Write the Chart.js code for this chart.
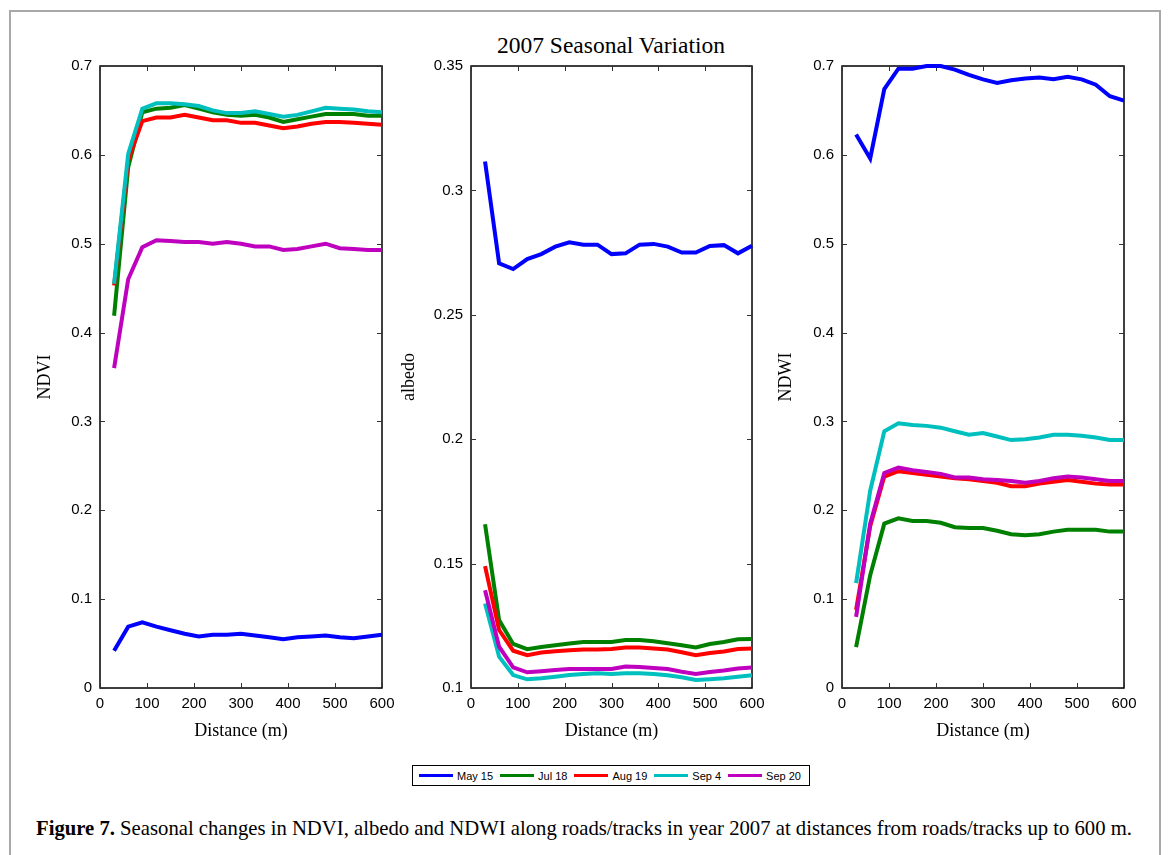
<!DOCTYPE html>
<html>
<head>
<meta charset="utf-8">
<script src="https://cdn.jsdelivr.net/npm/chart.js@4.4.0/dist/chart.umd.min.js"></script>
<style>
  body { margin: 0; background: #fff; width: 1168px; height: 855px; position: relative; overflow: hidden; }
  #frame { position: absolute; left: 9px; top: 10px; width: 1152px; height: 900px; border: 2px solid #a8a8a8; box-sizing: border-box; }
  canvas.panel { position: absolute; top: 49px; }
  #title { position: absolute; left: 411px; width: 400px; top: 32px; text-align: center;
           font: 23.5px "Liberation Serif", serif; color: #000; }
  #legend { position: absolute; left: 412px; top: 765px; width: 398px; height: 21px; box-sizing: border-box;
            border: 1.5px solid #000; display: flex; align-items: center; padding-left: 6px;
            font: 11px "Liberation Sans", Arial, sans-serif; color: #000; }
  #legend .item { display: flex; align-items: center; margin-right: 7px; }
  #legend .swatch { width: 34px; height: 3px; margin-right: 4px; }
  #caption { position: absolute; left: 36px; top: 816px; white-space: nowrap; transform-origin: 0 0;
             font: 21px "Liberation Serif", serif; color: #000; }
</style>
</head>
<body>
<div id="frame"></div>
<div id="title">2007 Seasonal Variation</div>
<canvas id="ndviChart" class="panel"></canvas>
<canvas id="albedoChart" class="panel"></canvas>
<canvas id="ndwiChart" class="panel"></canvas>
<div id="legend"></div>
<div id="caption"><b>Figure 7.</b> Seasonal changes in NDVI, albedo and NDWI along roads/tracks in year 2007 at distances from roads/tracks up to 600 m.</div>

<script>
// distances from roads/tracks (m)
const distance = [30, 60, 90, 120, 150, 180, 210, 240, 270, 300, 330, 360, 390, 420, 450, 480, 510, 540, 570, 600];
const dates = ['May 15', 'Jul 18', 'Aug 19', 'Sep 4', 'Sep 20'];
const colors = ['#0000ff', '#008000', '#ff0000', '#00bfbf', '#bf00bf'];

const xTicks = [0, 100, 200, 300, 400, 500, 600];
const ndviTicks = [0, 0.1, 0.2, 0.3, 0.4, 0.5, 0.6, 0.7];
const albedoTicks = [0.1, 0.15, 0.2, 0.25, 0.3, 0.35];
const ndwiTicks = [0, 0.1, 0.2, 0.3, 0.4, 0.5, 0.6, 0.7];

// NDVI
const ndviMay15 = [0.042, 0.069, 0.074, 0.069, 0.065, 0.061, 0.058, 0.060, 0.060, 0.061, 0.059, 0.057, 0.055, 0.057, 0.058, 0.059, 0.057, 0.056, 0.058, 0.060];
const ndviJul18 = [0.419, 0.586, 0.648, 0.652, 0.653, 0.656, 0.652, 0.648, 0.645, 0.644, 0.645, 0.642, 0.637, 0.640, 0.643, 0.646, 0.646, 0.646, 0.644, 0.644];
const ndviAug19 = [0.453, 0.594, 0.638, 0.642, 0.642, 0.645, 0.642, 0.639, 0.639, 0.636, 0.636, 0.633, 0.630, 0.632, 0.635, 0.637, 0.637, 0.636, 0.635, 0.634];
const ndviSep4  = [0.455, 0.601, 0.652, 0.658, 0.658, 0.657, 0.655, 0.650, 0.647, 0.647, 0.649, 0.646, 0.643, 0.645, 0.649, 0.653, 0.652, 0.651, 0.649, 0.648];
const ndviSep20 = [0.360, 0.460, 0.496, 0.504, 0.503, 0.502, 0.502, 0.500, 0.502, 0.500, 0.497, 0.497, 0.493, 0.494, 0.497, 0.500, 0.495, 0.494, 0.493, 0.493];

// albedo
const albedoMay15 = [0.3116, 0.2707, 0.2684, 0.2724, 0.2744, 0.2774, 0.2791, 0.2782, 0.2782, 0.2744, 0.2747, 0.2782, 0.2785, 0.2774, 0.2750, 0.2750, 0.2777, 0.2780, 0.2747, 0.2778];
const albedoJul18 = [0.1658, 0.1273, 0.1177, 0.1156, 0.1165, 0.1172, 0.1179, 0.1185, 0.1185, 0.1185, 0.1193, 0.1193, 0.1188, 0.1180, 0.1172, 0.1163, 0.1177, 0.1185, 0.1196, 0.1197];
const albedoAug19 = [0.1490, 0.1233, 0.1150, 0.1132, 0.1143, 0.1148, 0.1152, 0.1155, 0.1155, 0.1157, 0.1163, 0.1163, 0.1159, 0.1155, 0.1144, 0.1132, 0.1141, 0.1147, 0.1157, 0.1159];
const albedoSep4  = [0.1340, 0.1126, 0.1052, 0.1035, 0.1039, 0.1045, 0.1052, 0.1056, 0.1059, 0.1056, 0.1059, 0.1059, 0.1056, 0.1051, 0.1043, 0.1032, 0.1035, 0.1039, 0.1045, 0.1051];
const albedoSep20 = [0.1393, 0.1166, 0.1083, 0.1063, 0.1067, 0.1072, 0.1076, 0.1076, 0.1076, 0.1076, 0.1086, 0.1084, 0.1080, 0.1076, 0.1065, 0.1056, 0.1064, 0.1070, 0.1078, 0.1082];

// NDWI
const ndwiMay15 = [0.623, 0.596, 0.674, 0.697, 0.697, 0.700, 0.700, 0.696, 0.690, 0.685, 0.681, 0.684, 0.686, 0.687, 0.685, 0.688, 0.685, 0.679, 0.666, 0.661];
const ndwiJul18 = [0.046, 0.127, 0.185, 0.191, 0.188, 0.188, 0.186, 0.181, 0.180, 0.180, 0.177, 0.173, 0.172, 0.173, 0.176, 0.178, 0.178, 0.178, 0.176, 0.176];
const ndwiAug19 = [0.088, 0.182, 0.238, 0.244, 0.242, 0.240, 0.238, 0.236, 0.235, 0.233, 0.231, 0.227, 0.227, 0.230, 0.232, 0.234, 0.232, 0.230, 0.229, 0.229];
const ndwiSep4  = [0.118, 0.222, 0.289, 0.298, 0.296, 0.295, 0.293, 0.289, 0.285, 0.287, 0.283, 0.279, 0.280, 0.282, 0.285, 0.285, 0.284, 0.282, 0.279, 0.279];
const ndwiSep20 = [0.080, 0.185, 0.242, 0.248, 0.245, 0.243, 0.241, 0.237, 0.237, 0.235, 0.234, 0.233, 0.231, 0.233, 0.236, 0.238, 0.237, 0.235, 0.233, 0.233];

const SANS = '"Liberation Sans", Arial, sans-serif';
const SERIF = '"Liberation Serif", "Times New Roman", serif';

// box round the plot area plus inward ticks on all four sides
const frameTicks = {
    id: 'frameTicks',
    beforeDatasetsDraw(chart) {
        const { ctx, chartArea: a, scales: { x, y } } = chart;
        ctx.save();
        ctx.strokeStyle = '#000';
        ctx.lineWidth = 1.5;
        ctx.strokeRect(a.left, a.top, a.right - a.left, a.bottom - a.top);
        ctx.lineWidth = 1;
        ctx.strokeStyle = '#333';
        ctx.beginPath();
        x.ticks.forEach(t => {
            const px = Math.round(x.getPixelForValue(t.value)) + 0.5;
            ctx.moveTo(px, a.bottom); ctx.lineTo(px, a.bottom - 5);
            ctx.moveTo(px, a.top); ctx.lineTo(px, a.top + 5);
        });
        y.ticks.forEach(t => {
            const py = Math.round(y.getPixelForValue(t.value)) + 0.5;
            ctx.moveTo(a.left, py); ctx.lineTo(a.left + 5, py);
            ctx.moveTo(a.right, py); ctx.lineTo(a.right - 5, py);
        });
        ctx.stroke();
        ctx.restore();
    }
};

function makePanel(id, left, axisWidth, plotWidth, yTicks, yTitle, series) {
    const canvas = document.getElementById(id);
    canvas.style.left = left + 'px';
    canvas.width = axisWidth + plotWidth + 20;
    canvas.height = 706;

    new Chart(canvas, {
        type: 'line',
        data: {
            labels: distance,
            datasets: series.map((vals, i) => ({
                label: dates[i],
                data: vals.map((v, j) => ({ x: distance[j], y: v })),
                borderColor: colors[i],
                borderWidth: 4,
                pointRadius: 0,
                tension: 0,
                fill: false,
                clip: 4,
                order: series.length - i
            }))
        },
        options: {
            responsive: false,
            animation: false,
            events: [],
            layout: { padding: { top: 4, right: 20, left: 0, bottom: 0 } },
            plugins: { legend: { display: false }, tooltip: { enabled: false } },
            scales: {
                x: {
                    type: 'linear',
                    min: 0, max: 600,
                    afterBuildTicks: s => { s.ticks = xTicks.map(v => ({ value: v })); },
                    afterFit: s => { s.height = 67; },
                    grid: { display: false, drawTicks: false },
                    border: { display: false },
                    ticks: { color: '#000', font: { family: SANS, size: 15 }, padding: 7, maxRotation: 0, autoSkip: false },
                    title: { display: true, text: 'Distance (m)', color: '#000', font: { family: SERIF, size: 18 }, padding: { top: 4, bottom: 13 } }
                },
                y: {
                    type: 'linear',
                    min: yTicks[0], max: yTicks[yTicks.length - 1],
                    afterBuildTicks: s => { s.ticks = yTicks.map(v => ({ value: v })); },
                    afterFit: s => { s.width = axisWidth; },
                    grid: { display: false, drawTicks: false },
                    border: { display: false },
                    ticks: { color: '#000', font: { family: SANS, size: 15 }, padding: 8, autoSkip: false,
                             callback: v => String(+v.toFixed(2)) },
                    title: { display: true, text: yTitle, color: '#000', font: { family: SERIF, size: 18 }, padding: { top: 4, bottom: 4 } }
                }
            }
        },
        plugins: [frameTicks]
    });
}

makePanel('ndviChart', 30, 70, 282, ndviTicks, 'NDVI', [ndviMay15, ndviJul18, ndviAug19, ndviSep4, ndviSep20]);
makePanel('albedoChart', 394, 77, 281, albedoTicks, 'albedo', [albedoMay15, albedoJul18, albedoAug19, albedoSep4, albedoSep20]);
makePanel('ndwiChart', 771, 71, 282, ndwiTicks, 'NDWI', [ndwiMay15, ndwiJul18, ndwiAug19, ndwiSep4, ndwiSep20]);

// legend under the panels
const legend = document.getElementById('legend');
dates.forEach((d, i) => {
    const item = document.createElement('div');
    item.className = 'item';
    item.innerHTML = '<span class="swatch" style="background:' + colors[i] + '"></span><span>' + d + '</span>';
    legend.appendChild(item);
});

// stretch the caption to the width of the original line
const caption = document.getElementById('caption');
const w = caption.getBoundingClientRect().width;
caption.style.transform = 'scaleX(' + (1096 / w) + ')';
</script>
</body>
</html>
